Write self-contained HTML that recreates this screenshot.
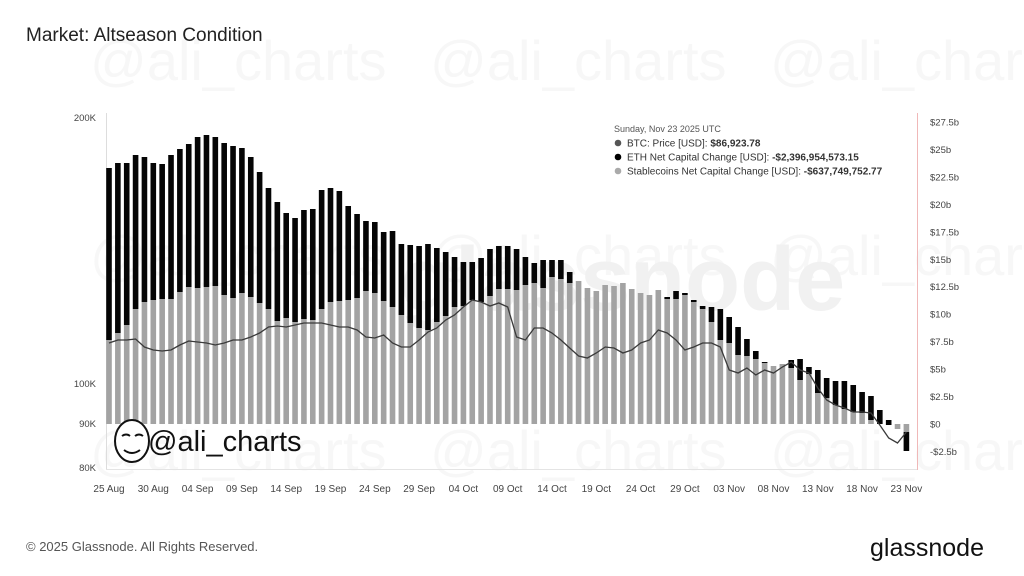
<!DOCTYPE html>
<html><head><meta charset="utf-8"><style>
html,body{margin:0;padding:0;background:#fff;width:1024px;height:576px;overflow:hidden;font-family:"Liberation Sans",sans-serif}
</style></head><body>
<svg id="s" width="1024" height="576" xmlns="http://www.w3.org/2000/svg" style="position:absolute;left:0;top:0">
<rect width="1024" height="576" fill="#fff"/>
<g fill="#f7f7f7" font-size="56" font-family="Liberation Sans,sans-serif">
<text x="90" y="80">@ali_charts</text><text x="430" y="80">@ali_charts</text><text x="770" y="80">@ali_charts</text>
<text x="90" y="275">@ali_charts</text><text x="430" y="275">@ali_charts</text><text x="770" y="275">@ali_charts</text>
<text x="90" y="470">@ali_charts</text><text x="430" y="470">@ali_charts</text><text x="770" y="470">@ali_charts</text>
</g>
<text x="400" y="310" font-size="90" fill="#f1f1f1" font-weight="bold">glassnode</text>
<text x="26" y="41" font-size="19" fill="#222">Market: Altseason Condition</text>
<line x1="106.5" y1="113" x2="106.5" y2="470" stroke="#ddd"/>
<line x1="106" y1="469.5" x2="918" y2="469.5" stroke="#e4e4e4"/>
<line x1="917.5" y1="113" x2="917.5" y2="470" stroke="#f0b8b8"/>
<g id="bars"></g>
<polyline id="pl" fill="none" stroke="#3a3a3a" stroke-width="1.3"/>
<g font-size="9.5" fill="#444" text-anchor="end">
<text x="96" y="121">200K</text><text x="96" y="387">100K</text><text x="96" y="427">90K</text><text x="96" y="471">80K</text>
</g>
<g id="rt" font-size="9.5" fill="#444"></g>
<g id="xt" font-size="10" fill="#444" text-anchor="middle"></g>
<g font-size="9" fill="#333">
<text x="614" y="132" fill="#555">Sunday, Nov 23 2025 UTC</text>
<circle cx="618" cy="143" r="3.3" fill="#555"/><text x="627" y="146.5" font-size="10">BTC: Price [USD]: <tspan font-weight="bold">$86,923.78</tspan></text>
<circle cx="618" cy="157" r="3.3" fill="#000"/><text x="627" y="160.5" font-size="10">ETH Net Capital Change [USD]: <tspan font-weight="bold">-$2,396,954,573.15</tspan></text>
<circle cx="618" cy="171" r="3.3" fill="#aaa"/><text x="627" y="174.5" font-size="10">Stablecoins Net Capital Change [USD]: <tspan font-weight="bold">-$637,749,752.77</tspan></text>
</g>
<g>
<ellipse cx="132" cy="441" rx="17" ry="21" fill="#fff" stroke="#111" stroke-width="2"/>
<path d="M122 436 q4 -3 8 0 M135 436 q4 -3 8 0 M124 450 q8 6 16 0" stroke="#111" stroke-width="2" fill="none"/>
<text x="148" y="451" font-size="29" fill="#111">@ali_charts</text>
</g>
<text x="26" y="551" font-size="13" fill="#555">© 2025 Glassnode. All Rights Reserved.</text>
<text x="870" y="556" font-size="25" fill="#111">glassnode</text>
</svg>
<script>
var g=[340,333,325,309,302,300,299,299,292,287,288,287,286,295,298,293,297,303,309,321,318,322,319,320,309,302,301,300,298,291,293,301,307,315,323,328,330,322,316,307,306,
300,302,296,289,289,290,285,283,288,277,279,283,281,288,291,285,286,283,289,293,295,290,299,299,295,302,309,322,340,343,355,356,359,363,366,364,368,380,374,393,398,405,409,412,413,420,424,424,429,432];
var b=[168,163,163,155,157,163,164,155,149,144,137,135,137,143,146,148,157,172,188,202,213,218,210,209,190,188,191,206,214,221,222,232,231,244,245,246,244,248,252,257,262,
262,258,249,246,246,249,257,263,260,260,260,272,0,0,0,0,0,0,0,0,0,0,297,291,293,300,306,307,309,317,327,339,351,362,367,0,360,359,367,370,378,381,381,385,392,396,410,420,0,451];
var p=[343,340,340,339,347,350,351,350,345,341,342,343,345,343,340,340,337,333,327,326,327,325,323,323,323,325,327,327,330,337,338,335,343,347,347,340,332,328,320,315,307,
300,302,306,303,307,337,340,328,328,333,340,348,356,358,353,347,348,353,350,343,340,330,333,340,350,347,343,343,347,370,373,368,375,370,373,367,362,370,373,388,400,405,408,412,412,413,425,438,443,432];
var Z=424,w=5.6,h='',pts=[];
for(var i=0;i<91;i++){var x=109+i*8.86;
 var gt=g[i];
 if(gt<=Z) h+='<rect x="'+(x-w/2)+'" y="'+gt+'" width="'+w+'" height="'+(Z-gt)+'" fill="#a3a3a3"/>';
 else h+='<rect x="'+(x-w/2)+'" y="'+Z+'" width="'+w+'" height="'+(gt-Z)+'" fill="#a3a3a3"/>';
 if(b[i]){ if(i==90) h+='<rect x="'+(x-w/2)+'" y="432" width="'+w+'" height="19" fill="#050505"/>';
  else if(i==88) h+='<rect x="'+(x-w/2)+'" y="420" width="'+w+'" height="5" fill="#050505"/>';
  else h+='<rect x="'+(x-w/2)+'" y="'+b[i]+'" width="'+w+'" height="'+(gt-b[i])+'" fill="#050505"/>';}
 pts.push(x.toFixed(1)+','+p[i]);}
document.getElementById('bars').innerHTML=h;
document.getElementById('pl').setAttribute('points',pts.join(' '));
var rl=['$27.5b','$25b','$22.5b','$20b','$17.5b','$15b','$12.5b','$10b','$7.5b','$5b','$2.5b','$0','-$2.5b'],r='';
for(var k=0;k<rl.length;k++)r+='<text x="930" y="'+(125.5+k*27.45)+'">'+rl[k]+'</text>';
document.getElementById('rt').innerHTML=r;
var xl=['25 Aug','30 Aug','04 Sep','09 Sep','14 Sep','19 Sep','24 Sep','29 Sep','04 Oct','09 Oct','14 Oct','19 Oct','24 Oct','29 Oct','03 Nov','08 Nov','13 Nov','18 Nov','23 Nov'],t='';
for(var k=0;k<xl.length;k++)t+='<text x="'+(109+k*5*8.86)+'" y="492">'+xl[k]+'</text>';
document.getElementById('xt').innerHTML=t;
</script>
</body></html>
